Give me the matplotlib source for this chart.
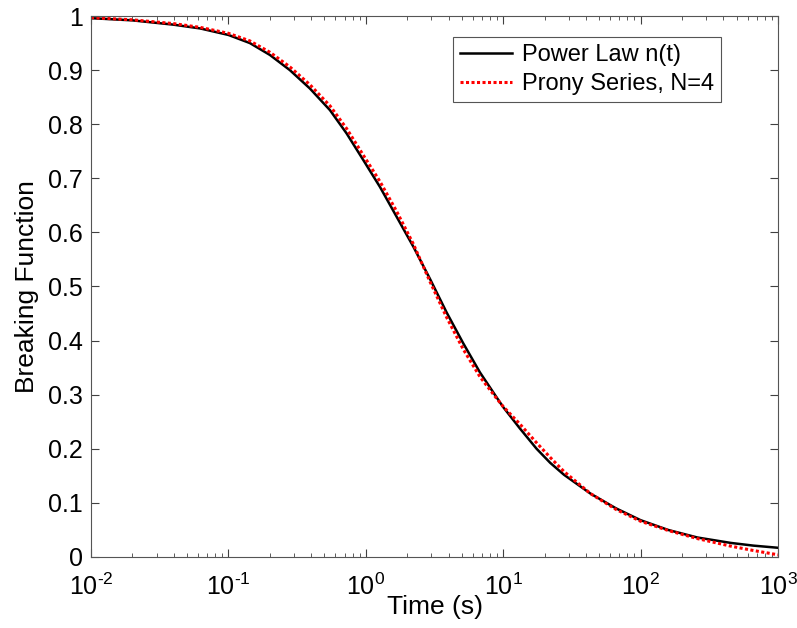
import numpy as np
import matplotlib
matplotlib.use("Agg")
import matplotlib.pyplot as plt

plt.rcParams['font.family'] = ['Liberation Sans', 'DejaVu Sans']
plt.rcParams['mathtext.fontset'] = 'custom'
plt.rcParams['mathtext.rm'] = 'Liberation Sans'
plt.rcParams['mathtext.it'] = 'Liberation Sans:italic'

# values (log10 of time in s, breaking function)
log_t = [-2.0, -1.7, -1.4, -1.205, -1.0, -0.844, -0.698, -0.553, -0.407, -0.261,
         -0.14, -0.019, 0.103, 0.224, 0.345, 0.467, 0.588, 0.709, 0.831, 0.952,
         1.0, 1.12, 1.243, 1.342, 1.442, 1.636, 1.82, 2.0, 2.2, 2.413,
         2.656, 2.82, 3.0]
power_n = [0.996, 0.992, 0.984, 0.977, 0.965, 0.950, 0.928, 0.900, 0.866, 0.826,
           0.783, 0.734, 0.684, 0.629, 0.574, 0.514, 0.452, 0.395, 0.341, 0.295,
           0.277, 0.238, 0.200, 0.174, 0.152, 0.117, 0.090, 0.068, 0.050, 0.036,
           0.026, 0.021, 0.017]
prony_n = [0.997, 0.993, 0.986, 0.979, 0.968, 0.954, 0.933, 0.906, 0.873, 0.834,
           0.792, 0.743, 0.694, 0.639, 0.579, 0.509, 0.443, 0.384, 0.333, 0.293,
           0.278, 0.246, 0.211, 0.184, 0.158, 0.117, 0.088, 0.066, 0.049, 0.034,
           0.020, 0.012, 0.004]

x_ticks = [1e-2, 1e-1, 1e0, 1e1, 1e2, 1e3]
x_labels = [r'$10^{\text{-}2}$', r'$10^{\text{-}1}$', r'$10^{0}$', r'$10^{1}$',
            r'$10^{2}$', r'$10^{3}$']
y_ticks = [0, 0.1, 0.2, 0.3, 0.4, 0.5, 0.6, 0.7, 0.8, 0.9, 1]
y_labels = ['0', '0.1', '0.2', '0.3', '0.4', '0.5', '0.6', '0.7', '0.8', '0.9', '1']

t = 10 ** np.array(log_t)

fig = plt.figure(figsize=(7.97, 6.28), dpi=100)
ax = fig.add_axes([0.1142, 0.1131, 0.8620, 0.8614])

ax.plot(t, power_n, color='black', lw=1.8, label='Power Law n(t)')
ax.plot(t, prony_n, color='red', lw=2.2, ls=(0, (1, 0.8)),
        label='Prony Series, N=4')

ax.set_xscale('log')
ax.set_xlim(1e-2, 1e3)
ax.set_ylim(0, 1)
ax.set_xticks(x_ticks)
ax.set_xticklabels(x_labels)
ax.set_yticks(y_ticks)
ax.set_yticklabels(y_labels)
ax.tick_params(which='both', direction='in', top=True, right=True,
               labelsize=18, color='#404040')
ax.tick_params(axis='y', pad=6)
ax.tick_params(axis='x', pad=12)
ax.tick_params(which='major', length=6)
ax.tick_params(which='minor', length=3)
for s in ax.spines.values():
    s.set_color('#555555')
    s.set_linewidth(0.8)

ax.set_xlabel('Time (s)', fontsize=19)
ax.xaxis.set_label_coords(0.5, -0.07)
ax.set_ylabel('Breaking Function', fontsize=19, labelpad=6)

leg = ax.legend(loc='upper right', bbox_to_anchor=(0.917, 0.961), fontsize=17,
                fancybox=False, framealpha=1, edgecolor='#555555',
                handlelength=2.2, handletextpad=0.4, borderpad=0.3,
                labelspacing=0.3, borderaxespad=0)
leg.get_frame().set_linewidth(0.8)

fig.savefig('out.png', dpi=100)
